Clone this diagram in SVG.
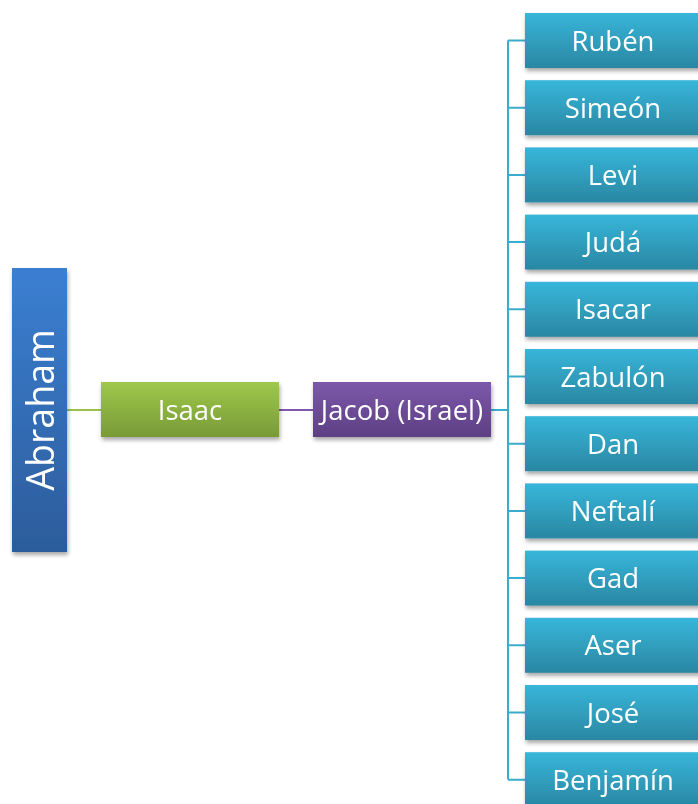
<svg xmlns="http://www.w3.org/2000/svg" width="698" height="804" viewBox="0 0 698 804">
<defs>
<linearGradient id="gBlue" x1="0" y1="0" x2="0" y2="1"><stop offset="0" stop-color="#3b7fd2"/><stop offset="1" stop-color="#2c5c9b"/></linearGradient>
<linearGradient id="gGreen" x1="0" y1="0" x2="0" y2="1"><stop offset="0" stop-color="#9fc84a"/><stop offset="1" stop-color="#789a37"/></linearGradient>
<linearGradient id="gPurple" x1="0" y1="0" x2="0" y2="1"><stop offset="0" stop-color="#7d58ab"/><stop offset="1" stop-color="#5d3f83"/></linearGradient>
<linearGradient id="gTeal" x1="0" y1="0" x2="0" y2="1"><stop offset="0" stop-color="#37b6da"/><stop offset="1" stop-color="#2a87a2"/></linearGradient>
<filter id="sh" x="-10%" y="-10%" width="130%" height="140%"><feGaussianBlur in="SourceAlpha" stdDeviation="2"/><feOffset dx="1" dy="3"/><feComponentTransfer><feFuncA type="linear" slope="0.35"/></feComponentTransfer><feMerge><feMergeNode/><feMergeNode in="SourceGraphic"/></feMerge></filter>
</defs>
<style>
text{font-family:"Open Sans","Noto Sans","Liberation Sans",sans-serif;fill:#fff;text-anchor:middle;dominant-baseline:central}
.t{font-size:27.5px}
.c{fill:none;stroke-width:2}
</style>
<g id="connectors">
<line class="c" x1="67" y1="410" x2="101" y2="410" stroke="#9bc34c"/>
<line class="c" x1="279" y1="410" x2="313" y2="410" stroke="#7d58ab"/>
<line class="c" x1="491" y1="410" x2="508" y2="410" stroke="#3aadcf"/>
<path class="c" stroke="#3aadcf" d="M508 40.5V779.5M508 40.5H525M508 107.7H525M508 174.9H525M508 242.1H525M508 309.3H525M508 376.5H525M508 443.7H525M508 510.9H525M508 578.1H525M508 645.3H525M508 712.5H525M508 779.7H525"/>
</g>
<g id="abraham" filter="url(#sh)"><rect x="12" y="268" width="55" height="284" fill="url(#gBlue)"/><text x="39.5" y="410" font-size="37.5" transform="rotate(-90 39.5 410)">Abraham</text></g>
<g id="isaac" filter="url(#sh)"><rect x="101" y="382" width="178" height="55" fill="url(#gGreen)"/><text class="t" x="190" y="409.5">Isaac</text></g>
<g id="jacob" filter="url(#sh)"><rect x="313" y="382" width="178" height="55" fill="url(#gPurple)"/><text class="t" x="402" y="409.5">Jacob (Israel)</text></g>
<g id="ruben" filter="url(#sh)"><rect x="525" y="13" width="180" height="55" fill="url(#gTeal)"/><text class="t" x="613" y="40">Rubén</text></g>
<g id="simeon" filter="url(#sh)"><rect x="525" y="80.2" width="180" height="55" fill="url(#gTeal)"/><text class="t" x="613" y="107.2">Simeón</text></g>
<g id="levi" filter="url(#sh)"><rect x="525" y="147.4" width="180" height="55" fill="url(#gTeal)"/><text class="t" x="613" y="174.4">Levi</text></g>
<g id="juda" filter="url(#sh)"><rect x="525" y="214.6" width="180" height="55" fill="url(#gTeal)"/><text class="t" x="613" y="241.6">Judá</text></g>
<g id="isacar" filter="url(#sh)"><rect x="525" y="281.8" width="180" height="55" fill="url(#gTeal)"/><text class="t" x="613" y="308.8">Isacar</text></g>
<g id="zabulon" filter="url(#sh)"><rect x="525" y="349" width="180" height="55" fill="url(#gTeal)"/><text class="t" x="613" y="376">Zabulón</text></g>
<g id="dan" filter="url(#sh)"><rect x="525" y="416.2" width="180" height="55" fill="url(#gTeal)"/><text class="t" x="613" y="443.2">Dan</text></g>
<g id="neftali" filter="url(#sh)"><rect x="525" y="483.4" width="180" height="55" fill="url(#gTeal)"/><text class="t" x="613" y="510.4">Neftalí</text></g>
<g id="gad" filter="url(#sh)"><rect x="525" y="550.6" width="180" height="55" fill="url(#gTeal)"/><text class="t" x="613" y="577.6">Gad</text></g>
<g id="aser" filter="url(#sh)"><rect x="525" y="617.8" width="180" height="55" fill="url(#gTeal)"/><text class="t" x="613" y="644.8">Aser</text></g>
<g id="jose" filter="url(#sh)"><rect x="525" y="685" width="180" height="55" fill="url(#gTeal)"/><text class="t" x="613" y="712">José</text></g>
<g id="benjamin" filter="url(#sh)"><rect x="525" y="752.2" width="180" height="55" fill="url(#gTeal)"/><text class="t" x="613" y="779.2">Benjamín</text></g>
</svg>
